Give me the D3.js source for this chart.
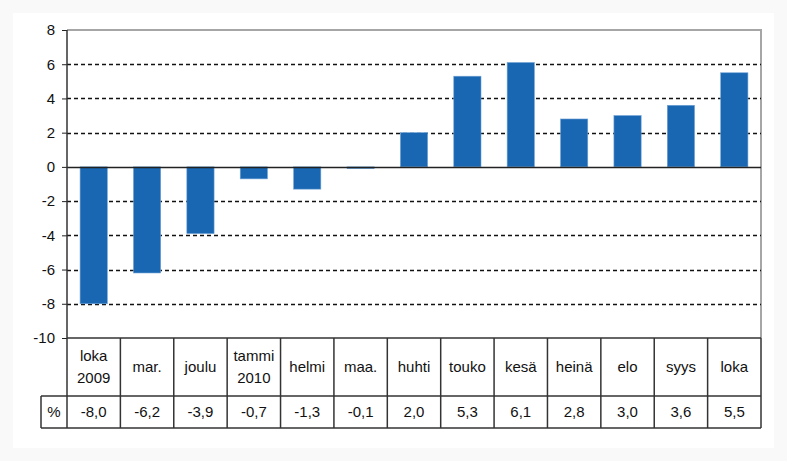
<!DOCTYPE html>
<html>
  <head>
    <meta charset="utf-8" />
    <title>D3</title>
    <script src="https://cdn.jsdelivr.net/npm/d3@7"></script>
    <style>
      body { margin: 0; background: #fff; }
      text { font-family: "Liberation Sans", Arial, sans-serif; fill: #111; }
    </style>
  </head>
  <body>
    <script>
      // kuukaudet ja muutos-%
      const months = ["loka|2009", "mar.", "joulu", "tammi|2010", "helmi", "maa.", "huhti", "touko", "kesä", "heinä", "elo", "syys", "loka"];
      const values = [-8.0, -6.2, -3.9, -0.7, -1.3, -0.1, 2.0, 5.3, 6.1, 2.8, 3.0, 3.6, 5.5];
      const valueLabels = ["-8,0", "-6,2", "-3,9", "-0,7", "-1,3", "-0,1", "2,0", "5,3", "6,1", "2,8", "3,0", "3,6", "5,5"];
      const yTicks = [-10, -8, -6, -4, -2, 0, 2, 4, 6, 8];

      const w = 787;
      const h = 461;
      const pLeft = 67, pRight = 761, pTop = 30, pBottom = 338;
      const row1 = 396, row2 = 428, pctLeft = 41;
      const fs = "15px";

      const svg = d3.select("body").append("svg").attr("width", w).attr("height", h);

      svg.append("rect").attr("width", w).attr("height", h).attr("fill", "#f9f9f9");
      svg.append("rect").attr("x", 13).attr("y", 13).attr("width", w - 26).attr("height", h - 26).attr("fill", "#fff");

      const x = d3.scaleBand().domain(d3.range(months.length)).range([pLeft, pRight]).paddingInner(0).paddingOuter(0);
      const y = d3.scaleLinear().domain([-10, 8]).range([pBottom, pTop]);

      // frame (top + right grey)
      svg.append("path")
        .attr("d", `M${pLeft},${pTop}H${pRight}V${pBottom}`)
        .attr("fill", "none").attr("stroke", "#a6a6a6").attr("stroke-width", 2);

      // grid
      svg.selectAll(".grid").data(yTicks.filter(d => d !== 0 && d !== 8 && d !== -10)).enter()
        .append("line")
        .attr("x1", pLeft).attr("x2", pRight)
        .attr("y1", d => Math.round(y(d)) + 0.5).attr("y2", d => Math.round(y(d)) + 0.5)
        .attr("stroke", "#111").attr("stroke-width", 1.3).attr("stroke-dasharray", "4,3");

      // bars
      const bw = x.bandwidth() * 0.51;
      svg.selectAll(".bar").data(values).enter()
        .append("rect")
        .attr("x", (d, i) => x(i) + (x.bandwidth() - bw) / 2)
        .attr("width", bw)
        .attr("y", d => y(Math.max(0, d)))
        .attr("height", d => Math.abs(y(d) - y(0)))
        .attr("fill", "#1966b2")
        .attr("stroke", "#6fa3d6").attr("stroke-width", 0.6);

      // zero line
      svg.append("line")
        .attr("x1", pLeft).attr("x2", pRight)
        .attr("y1", Math.round(y(0)) + 0.5).attr("y2", Math.round(y(0)) + 0.5)
        .attr("stroke", "#222").attr("stroke-width", 1.5);

      // y axis
      const yAxis = d3.axisLeft(y).tickValues(yTicks).tickSize(5).tickPadding(7).tickFormat(d => d);
      const ag = svg.append("g").attr("transform", "translate(" + pLeft + ",0)").call(yAxis);
      ag.select(".domain").remove();
      ag.selectAll("line").attr("stroke", "#222");
      ag.selectAll("text").style("font-size", fs).attr("fill", "#222");

      // table
      const tbl = svg.append("g").attr("stroke", "#333").attr("stroke-width", 1.5).attr("fill", "none");
      tbl.append("line").attr("x1", pLeft).attr("x2", pLeft).attr("y1", pTop).attr("y2", row2);
      tbl.append("line").attr("x1", pLeft).attr("x2", pRight).attr("y1", pBottom).attr("y2", pBottom);
      tbl.append("line").attr("x1", pctLeft).attr("x2", pRight).attr("y1", row1).attr("y2", row1);
      tbl.append("line").attr("x1", pctLeft).attr("x2", pRight).attr("y1", row2).attr("y2", row2);
      tbl.append("line").attr("x1", pctLeft).attr("x2", pctLeft).attr("y1", row1).attr("y2", row2);
      tbl.selectAll(".col").data(d3.range(1, months.length + 1)).enter()
        .append("line")
        .attr("x1", i => (i < months.length ? x(i) : pRight)).attr("x2", i => (i < months.length ? x(i) : pRight))
        .attr("y1", pBottom).attr("y2", row2);

      // month labels
      const lab = svg.selectAll(".lab").data(months).enter()
        .append("text")
        .attr("text-anchor", "middle")
        .style("font-size", fs)
        .attr("x", (d, i) => x(i) + x.bandwidth() / 2);
      lab.each(function (d) {
        const parts = d.split("|");
        const t = d3.select(this);
        const mid = (pBottom + row1) / 2 + 5;
        parts.forEach((p, k) => {
          t.append("tspan")
            .attr("x", t.attr("x"))
            .attr("y", mid + (k - (parts.length - 1) / 2) * 22)
            .text(p);
        });
      });

      svg.append("text").attr("x", (pctLeft + pLeft) / 2).attr("y", (row1 + row2) / 2 + 5)
        .attr("text-anchor", "middle").style("font-size", fs).text("%");

      svg.selectAll(".val").data(valueLabels).enter()
        .append("text")
        .attr("text-anchor", "middle").style("font-size", fs)
        .attr("x", (d, i) => x(i) + x.bandwidth() / 2)
        .attr("y", (row1 + row2) / 2 + 5)
        .text(d => d);
    </script>
  </body>
</html>
